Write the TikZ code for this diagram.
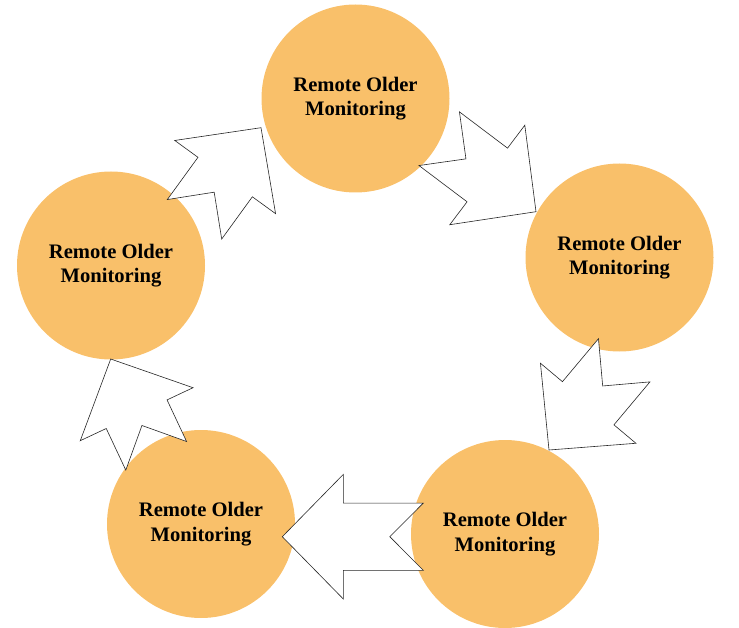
\documentclass[tikz,border=0pt]{standalone}
\usepackage{fontspec}
\setmainfont{Liberation Serif}
\usepackage{tikz}
\usetikzlibrary{calc}

\definecolor{monitorfill}{RGB}{249,192,106}

% sizes of the block arrows
\newcommand{\shaftw}{33.6pt}
\newcommand{\headw}{62.3pt}
\newcommand{\headl}{61pt}
\newcommand{\notchd}{33.5pt}

% block arrow with notched tail, from tail centre #1 to tip #2
\newcommand{\bigarrow}[2]{%
  \draw[arrowshape]
    ($(#1)!\shaftw!90:(#2)$)
    -- ($(#2)!\headl!(#1) + (#1)!\shaftw!90:(#2) - (#1)$)
    -- ($(#2)!\headl!(#1) + (#1)!\headw!90:(#2) - (#1)$)
    -- (#2)
    -- ($(#2)!\headl!(#1) + (#1)!\headw!-90:(#2) - (#1)$)
    -- ($(#2)!\headl!(#1) + (#1)!\shaftw!-90:(#2) - (#1)$)
    -- ($(#1)!\shaftw!-90:(#2)$)
    -- ($(#1)!\notchd!(#2)$)
    -- cycle;}

\begin{document}
\begin{tikzpicture}[x=1pt, y=-1pt,
		monitor/.style={circle, fill=monitorfill, minimum size=188pt, inner sep=0pt, align=center,
			font=\bfseries\fontsize{20.6}{24.5}\selectfont},
		arrowshape/.style={draw=black!85, fill=white, line width=0.6pt, line join=miter}
	]
	\useasboundingbox (0,0) rectangle (739,628);

	\node[monitor] (rtop) at (355.5,98.5) {Remote Older\\Monitoring};
	\node[monitor] (rright) at (619.5,257.5) {Remote Older\\Monitoring};
	\node[monitor] (rbotr) at (505,534) {Remote Older\\Monitoring};
	\node[monitor] (rbotl) at (201,524) {Remote Older\\Monitoring};
	\node[monitor] (rleft) at (111,265.5) {Remote Older\\Monitoring};

	% tails and tips of the block arrows
	\coordinate (t1) at (439.2,138.7);
	\coordinate (h1) at (536,211.7);
	\coordinate (t2) at (624.2,360.3);
	\coordinate (h2) at (549,450);
	\coordinate (t3) at (423.3,536.7);
	\coordinate (h3) at (282.3,536.7);
	\coordinate (t4) at (156.2,455.8);
	\coordinate (h4) at (110.7,359);
	\coordinate (t5) at (194.5,219.3);
	\coordinate (h5) at (261,127.7);

	\bigarrow{t1}{h1}
	\bigarrow{t2}{h2}
	\bigarrow{t3}{h3}
	\bigarrow{t4}{h4}
	\bigarrow{t5}{h5}
\end{tikzpicture}
\end{document}
